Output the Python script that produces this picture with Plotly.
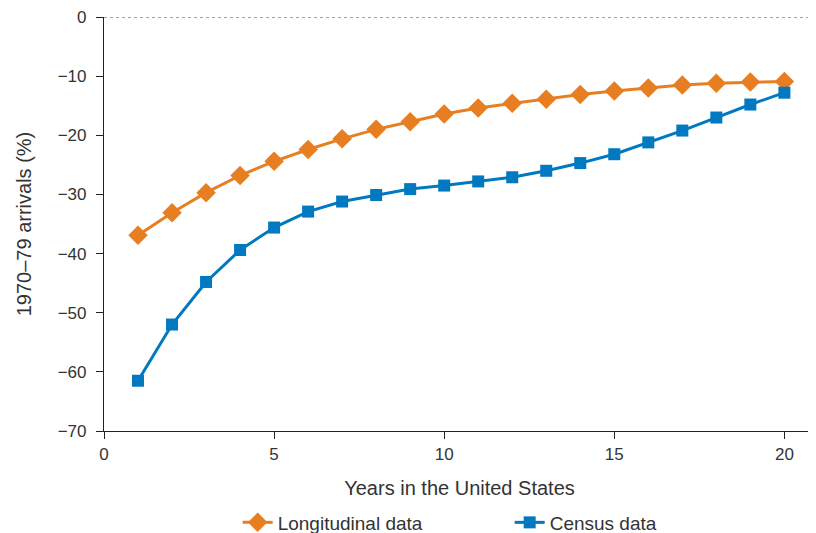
import plotly.graph_objects as go

years = list(range(1, 21))
longitudinal = [-36.9, -33.1, -29.7, -26.8, -24.4, -22.4, -20.6, -19.0, -17.7, -16.4,
                -15.4, -14.6, -13.9, -13.1, -12.5, -12.0, -11.5, -11.2, -11.0, -10.9]
census = [-61.5, -52.0, -44.8, -39.4, -35.6, -32.9, -31.2, -30.1, -29.1, -28.5,
          -27.8, -27.1, -26.0, -24.7, -23.2, -21.2, -19.2, -17.0, -14.8, -12.8]
y_ticks = [0, -10, -20, -30, -40, -50, -60, -70]
x_ticks = [0, 5, 10, 15, 20]

ORANGE = "#E87E22"
BLUE = "#0079C1"
TXT = "#333333"

fig = go.Figure()
fig.add_trace(go.Scatter(x=years, y=longitudinal, mode="lines+markers", name="Longitudinal data",
                         line=dict(color=ORANGE, width=3),
                         marker=dict(symbol="diamond", size=15, color=ORANGE)))
fig.add_trace(go.Scatter(x=years, y=census, mode="lines+markers", name="Census data",
                         line=dict(color=BLUE, width=3),
                         marker=dict(symbol="square", size=12, color=BLUE)))

fig.add_shape(type="line", xref="paper", yref="y", x0=0, x1=1, y0=0, y1=0,
              line=dict(color="#444444", width=1, dash="dot"), layer="below")

# page body has an 8px margin, so the figure is drawn 8px smaller and offset
fig.update_layout(
    width=808, height=525,
    margin=dict(l=96, r=1, t=9, b=102, autoexpand=False),
    paper_bgcolor="white", plot_bgcolor="white",
    font=dict(family="Liberation Sans, Arial, sans-serif", size=17, color=TXT),
    showlegend=True,
    legend=dict(orientation="h", x=0.188, xanchor="left", yref="container", y=0.02, yanchor="middle",
                font=dict(size=19, color=TXT), entrywidth=227, tracegroupgap=0),
    xaxis=dict(range=[0, 20.9], tickvals=x_ticks, showgrid=False, zeroline=False, automargin=False,
               showline=True, linecolor="#222222", linewidth=1.2,
               ticks="outside", ticklen=7, tickcolor="#222222", ticklabeloverflow="allow",
               title=dict(text="Years in the United States", standoff=18)),
    yaxis=dict(range=[-70, 0], tickvals=y_ticks, ticktext=["0" if v == 0 else "\u2212" + str(-v) for v in y_ticks],
               showgrid=False, zeroline=False, automargin=False,
               showline=True, linecolor="#222222", linewidth=1.2,
               ticks="outside", ticklen=7, tickcolor="#222222", ticklabelstandoff=6,
               ticklabeloverflow="allow",
               title=dict(text="1970\u201379 arrivals (%)", standoff=20)),
)

fig.write_html("out.html")
